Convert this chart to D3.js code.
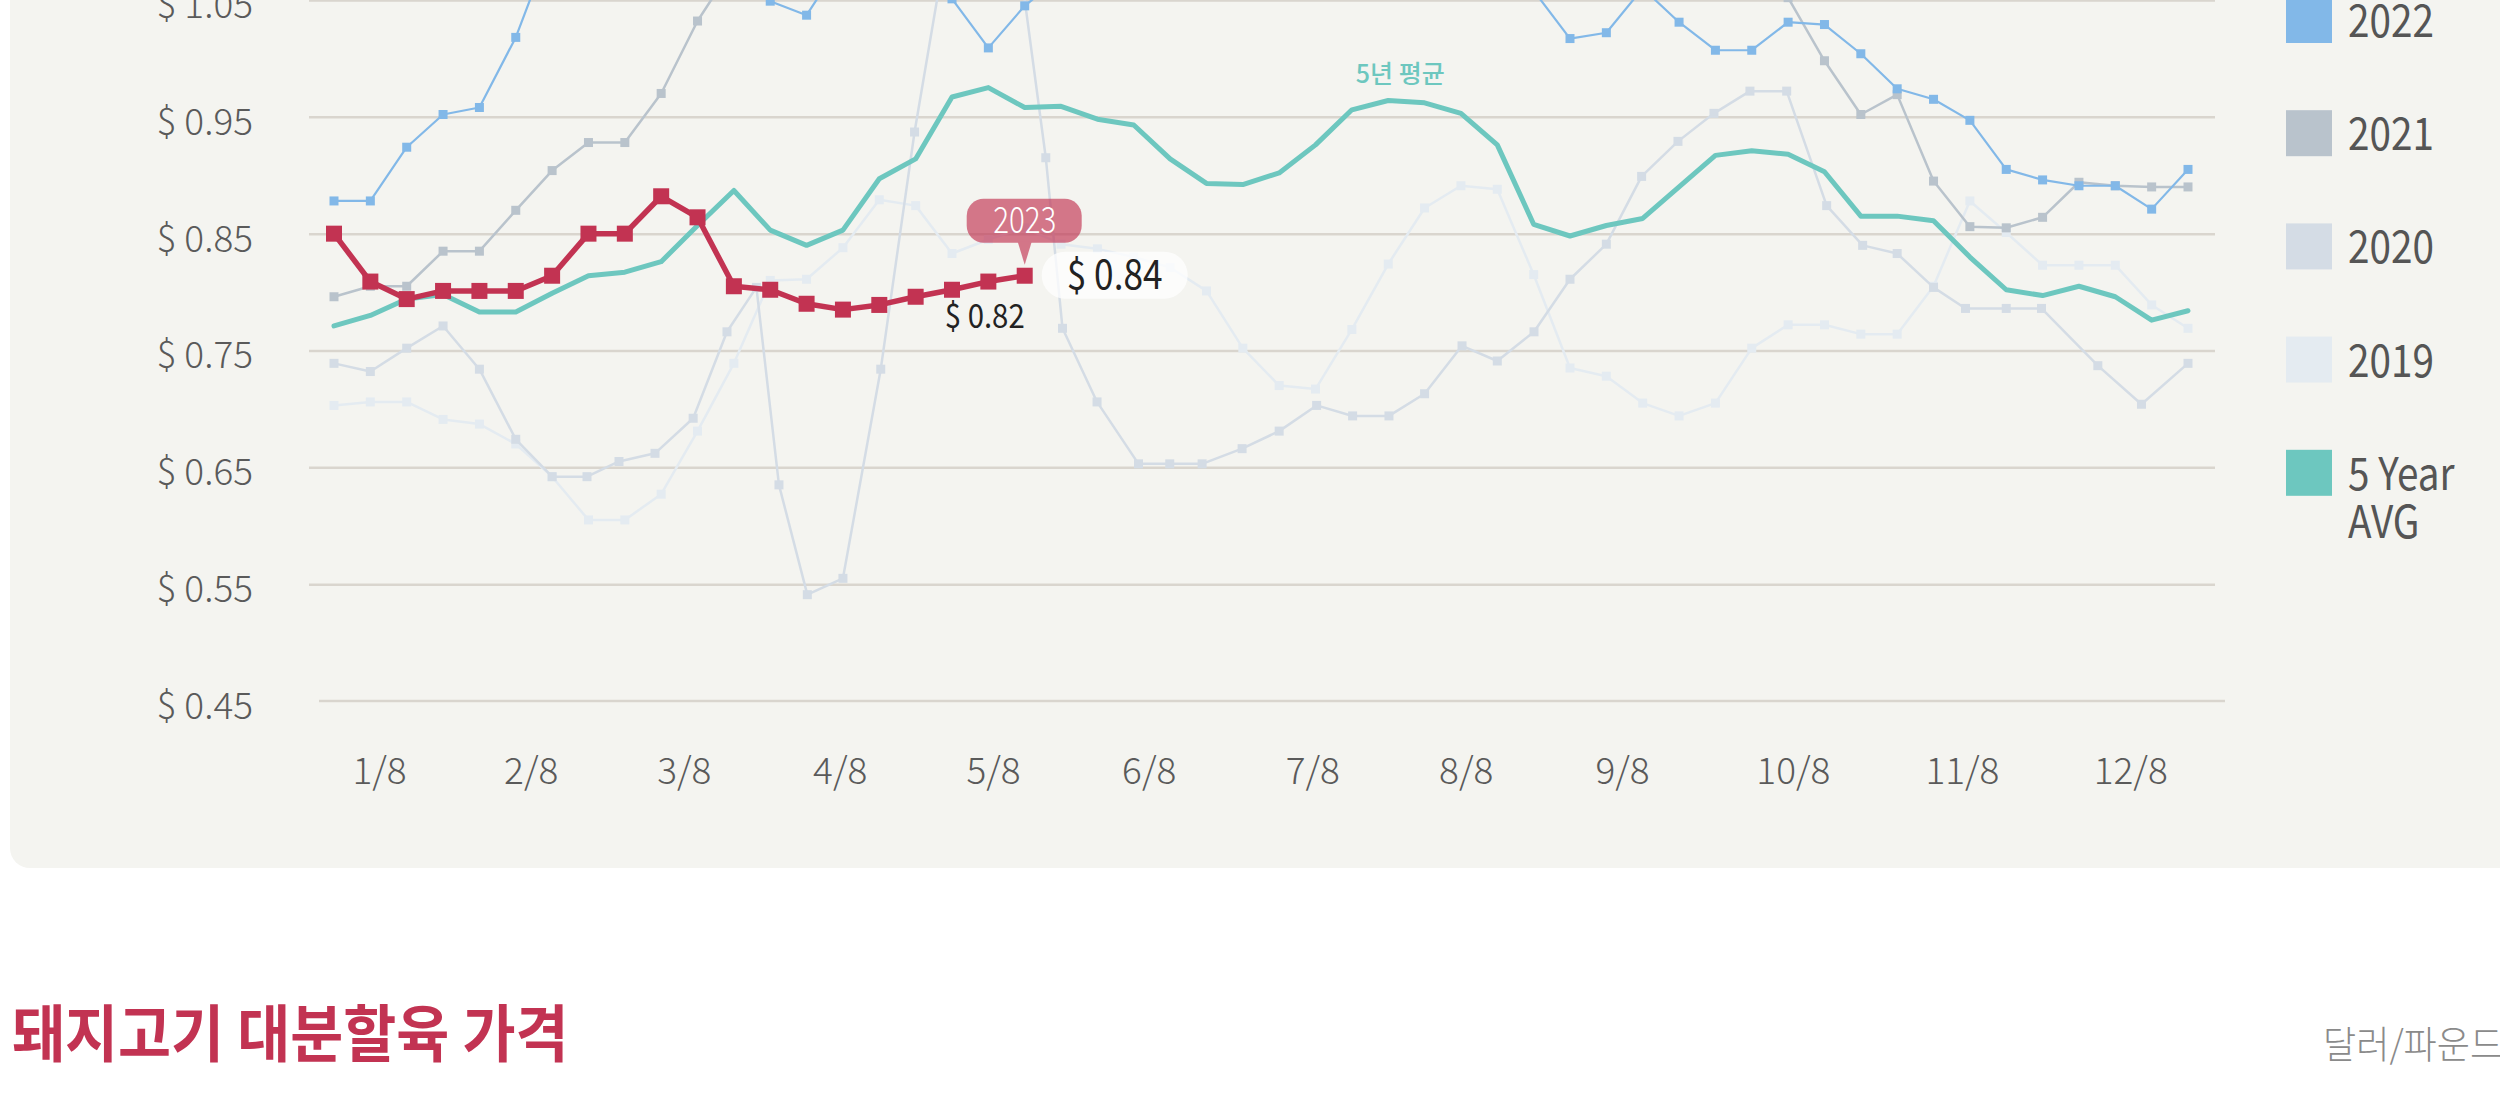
<!DOCTYPE html>
<html>
<head>
<meta charset="utf-8">
<style>
  body { margin: 0; background: #fff; }
  svg { display: block; font-family: "Noto Sans CJK KR", "Noto Sans", sans-serif; }
</style>
</head>
<body>
<svg width="2500" height="1105"></svg>
<script src="https://d3js.org/d3.v7.min.js"></script>
<script>

    // weekly pork cutout prices, $/lb (values above $1.05 run off the top of the crop)
    var weeks = d3.range(52);

    var p2023 = [0.850, 0.809, 0.794, 0.801, 0.801, 0.801, 0.814, 0.850, 0.850, 0.882,
                 0.864, 0.805, 0.802, 0.790, 0.785, 0.789, 0.796, 0.802, 0.809, 0.814];

    var p2022 = [0.878, 0.878, 0.924, 0.952, 0.958, 1.018, 1.100, 1.110, 1.090, 1.100,
                 1.080, 1.068, 1.049, 1.037, 1.085, 1.090, 1.075, 1.051, 1.009, 1.045,
                 1.070, 1.090, 1.100, 1.090, 1.120, 1.180, 1.220, 1.240, 1.220, 1.180,
                 1.140, 1.110, 1.080, 1.058, 1.017, 1.022, 1.060, 1.031, 1.007, 1.007,
                 1.031, 1.029, 1.004, 0.974, 0.965, 0.947, 0.905, 0.896, 0.891, 0.891,
                 0.871, 0.905];

    var p2021 = [0.796, 0.805, 0.805, 0.835, 0.835, 0.870, 0.904, 0.928, 0.928, 0.970,
                 1.032, 1.080, 1.100, 1.120, 1.140, 1.170, 1.210, 1.250, 1.280, 1.300,
                 1.310, 1.300, 1.270, 1.220, 1.180, 1.150, 1.130, 1.110, 1.100, 1.090,
                 1.080, 1.070, 1.080, 1.090, 1.100, 1.090, 1.080, 1.080, 1.070, 1.070,
                 1.052, 0.998, 0.952, 0.969, 0.895, 0.856, 0.855, 0.864, 0.894, 0.891,
                 0.890, 0.890];

    // 2020 reports fall on slightly different weeks
    var weeks2020 = [0, 1, 2, 3, 4, 5, 6, 6.96, 7.84, 8.83, 9.88, 10.81, 11.62, 12.24, 13.02,
                     14, 15.04, 15.97, 16.97, 17.95, 18.7, 19.58, 20.04, 20.99, 22.13, 22.99,
                     23.88, 24.98, 26, 27.03, 28.02, 29.02, 30, 31.03, 32, 33.01, 34, 35,
                     35.97, 36.97, 37.96, 38.95, 39.96, 41.06, 42.05, 43, 44, 44.88, 46,
                     46.97, 48.52, 49.72, 51];
    var p2020 = [0.739, 0.732, 0.752, 0.771, 0.734, 0.674, 0.642, 0.642, 0.655, 0.662,
                 0.692, 0.766, 0.804, 0.635, 0.541, 0.555, 0.734, 0.937, 1.120, 1.300,
                 1.120, 0.915, 0.769, 0.706, 0.653, 0.653, 0.653, 0.666, 0.681, 0.703,
                 0.694, 0.694, 0.713, 0.754, 0.741, 0.766, 0.811, 0.841, 0.899, 0.929,
                 0.953, 0.972, 0.972, 0.874, 0.840, 0.833, 0.804, 0.786, 0.786, 0.786,
                 0.737, 0.704, 0.739];

    var p2019 = [0.703, 0.706, 0.706, 0.691, 0.687, 0.670, 0.642, 0.605, 0.605, 0.627,
                 0.681, 0.739, 0.810, 0.811, 0.838, 0.879, 0.874, 0.833, 0.845, 0.855,
                 0.841, 0.837, 0.830, 0.821, 0.801, 0.752, 0.720, 0.717, 0.768, 0.824,
                 0.872, 0.891, 0.888, 0.815, 0.735, 0.728, 0.705, 0.694, 0.705, 0.752,
                 0.772, 0.772, 0.764, 0.764, 0.805, 0.878, 0.851, 0.823, 0.823, 0.823,
                 0.789, 0.769];

    var avg5 = [0.771, 0.780, 0.794, 0.798, 0.783, 0.783, 0.799, 0.814, 0.817, 0.826,
                0.857, 0.887, 0.853, 0.840, 0.853, 0.897, 0.914, 0.967, 0.975, 0.958,
                0.959, 0.948, 0.943, 0.914, 0.893, 0.892, 0.902, 0.926, 0.956, 0.964,
                0.962, 0.953, 0.926, 0.858, 0.848, 0.857, 0.863, 0.890, 0.917, 0.921,
                0.918, 0.903, 0.865, 0.865, 0.861, 0.830, 0.802, 0.797, 0.805, 0.796,
                0.776, 0.784];

    var yTicks = [0.45, 0.55, 0.65, 0.75, 0.85, 0.95, 1.05];
    var monthTicks = [1.24, 5.41, 9.62, 13.91, 18.13, 22.41, 26.91, 31.13, 35.43, 40.13, 44.78, 49.41];
    var monthLabels = ["1/8", "2/8", "3/8", "4/8", "5/8", "6/8", "7/8", "8/8", "9/8", "10/8", "11/8", "12/8"];

    var legendNames = ["2022", "2021", "2020", "2019", "5 Year\nAVG"];
    var legendColors = ["#82b8e8", "#b9c3cc", "#d4dce5", "#e4ebf1", "#6dc7bf"];

    var title = "돼지고기 대분할육 가격";
    var unitText = "달러/파운드";
    var avgLabel = "5년 평균";
    var lastLabel = "$ 0.84";
    var prevLabel = "$ 0.82";

    var svg = d3.select("svg");
    var crimson = "#c23352";
    var font = "'Noto Sans CJK KR', 'Noto Sans', sans-serif";

    var x = d3.scaleLinear().domain([0, 51]).range([334, 2188]);
    var y = d3.scaleLinear().domain([0.45, 1.05]).range([701, 0]);

    // narrow text helper (the reference type is a touch condensed)
    function label(parent, tx, ty, sx, txt) {
        return parent.append("g")
            .attr("transform", "translate(" + tx + "," + ty + ") scale(" + sx + ",1)")
            .append("text").text(txt);
    }

    // panel
    svg.append("rect")
        .attr("x", 10).attr("y", -100)
        .attr("width", 2700).attr("height", 968)
        .attr("rx", 20)
        .attr("fill", "#f4f4f0");

    // y grid + labels
    var yAxis = svg.append("g")
        .attr("transform", "translate(309,0)")
        .call(d3.axisLeft(y).tickValues(yTicks)
            .tickSize(-1906).tickPadding(56)
            .tickFormat(function(d) { return "$ " + d.toFixed(2); }));
    yAxis.attr("font-family", font);
    yAxis.select(".domain").remove();
    yAxis.selectAll(".tick line")
        .attr("stroke", "#d9d5ce").attr("stroke-width", 2.5)
        .filter(function(d) { return d === 0.45; }).remove();
    yAxis.selectAll(".tick text")
        .attr("fill", "#5a5a5a").attr("font-size", 37).attr("font-weight", 300).attr("dy", "0.47em");

    // baseline
    svg.append("line")
        .attr("x1", 319).attr("x2", 2225)
        .attr("y1", y(0.45)).attr("y2", y(0.45))
        .attr("stroke", "#d9d5ce").attr("stroke-width", 2.5);

    // x labels
    var xAxis = svg.append("g")
        .attr("transform", "translate(0,750)")
        .call(d3.axisBottom(x).tickValues(monthTicks).tickSize(0).tickPadding(0)
            .tickFormat(function(d, i) { return monthLabels[i]; }));
    xAxis.attr("font-family", font);
    xAxis.select(".domain").remove();
    xAxis.selectAll(".tick text")
        .attr("fill", "#5a5a5a").attr("font-size", 37).attr("font-weight", 300).attr("dy", "0.92em");

    function drawSeries(wks, vals, color, width, marker) {
        var pts = vals.map(function(v, i) { return [wks[i], v]; });
        var g = svg.append("g");
        g.append("path")
            .datum(pts)
            .attr("fill", "none")
            .attr("stroke", color)
            .attr("stroke-width", width)
            .attr("stroke-linejoin", "round")
            .attr("stroke-linecap", "round")
            .attr("d", d3.line().x(function(d) { return x(d[0]); }).y(function(d) { return y(d[1]); }));
        if (marker) {
            g.selectAll("rect")
                .data(pts)
                .enter().append("rect")
                .attr("x", function(d) { return x(d[0]) - marker / 2; })
                .attr("y", function(d) { return y(d[1]) - marker / 2; })
                .attr("width", marker).attr("height", marker)
                .attr("fill", color);
        }
    }

    drawSeries(weeks, p2019, legendColors[3], 2.5, 9);
    drawSeries(weeks2020, p2020, legendColors[2], 2.5, 9);
    drawSeries(weeks, p2021, legendColors[1], 2.5, 9);
    drawSeries(weeks, p2022, legendColors[0], 2.2, 9);
    drawSeries(weeks, avg5, legendColors[4], 5, 0);
    drawSeries(weeks, p2023, crimson, 5.5, 16);

    // 5-year label
    svg.append("text")
        .attr("x", x(29) + 12).attr("y", y(avg5[29]) - 17)
        .attr("text-anchor", "middle")
        .attr("fill", "#6dc7bf").attr("font-size", 25).attr("font-weight", 500)
        .text(avgLabel);

    // last-point callouts
    var li = p2023.length - 1;
    var px = x(li), py = y(p2023[li]);

    var bubble = svg.append("g").attr("opacity", 0.65);
    bubble.append("rect")
        .attr("x", px - 58).attr("y", py - 77)
        .attr("width", 115).attr("height", 44).attr("rx", 17)
        .attr("fill", crimson);
    bubble.append("path")
        .attr("d", "M" + (px - 7) + "," + (py - 34) + "L" + (px + 7) + "," + (py - 34) + "L" + px + "," + (py - 11) + "Z")
        .attr("fill", crimson);
    label(svg, px, py - 43, 0.82, "2023")
        .attr("text-anchor", "middle")
        .attr("fill", "#fff").attr("font-size", 36).attr("font-weight", 300);

    svg.append("rect")
        .attr("x", px + 17).attr("y", py - 24)
        .attr("width", 146).attr("height", 47).attr("rx", 23.5)
        .attr("fill", "#fff").attr("opacity", 0.75);
    label(svg, px + 42, py + 13, 0.88, lastLabel)
        .attr("fill", "#222").attr("font-size", 40);

    label(svg, px, py + 52, 0.89, prevLabel)
        .attr("text-anchor", "end")
        .attr("fill", "#222").attr("font-size", 33);

    // legend
    var leg = svg.append("g").attr("transform", "translate(2286,-3)");
    legendNames.forEach(function(name, i) {
        var row = leg.append("g").attr("transform", "translate(0," + (i * 113.2) + ")");
        row.append("rect").attr("width", 46).attr("height", 46).attr("fill", legendColors[i]);
        var t = label(row, 62, 40, 0.86, null)
            .attr("fill", "#555").attr("font-size", 45);
        name.split("\n").forEach(function(line, j) {
            t.append("tspan").attr("x", 0).attr("dy", j ? 48 : 0).text(line);
        });
    });

    // title + unit
    label(svg, 12, 1057, 0.93, title)
        .attr("fill", crimson).attr("font-size", 62).attr("font-weight", 700);

    label(svg, 2323, 1058, 0.95, unitText)
        .attr("fill", "#8a8a8a").attr("font-size", 38).attr("font-weight", 300);

</script>
</body>
</html>
